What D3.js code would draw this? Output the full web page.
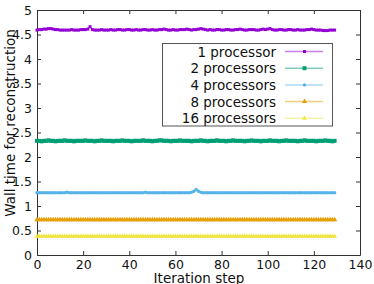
<!DOCTYPE html>
<html>
<head>
<meta charset="utf-8">
<script src="https://cdn.jsdelivr.net/npm/d3@7"></script>
<style>
  body { margin: 0; background: #fff; }
  text { font-family: "DejaVu Sans", sans-serif; fill: #111; }
</style>
</head>
<body>
<div id="chart"></div>
<script>
(function () {
    var width = 374, height = 284;

    var seriesNames = ["1 processor", "2 processors", "4 processors", "8 processors", "16 processors"];
    var seriesColors = ["#9400d3", "#009e73", "#56b4e9", "#e69f00", "#f0e442"];
    var xTicks = [0, 20, 40, 60, 80, 100, 120, 140];
    var yTicks = [0, 0.5, 1, 1.5, 2, 2.5, 3, 3.5, 4, 4.5, 5];
    var yTickLabels = ["0", "0.5", "1", "1.5", "2", "2.5", "3", "3.5", "4", "4.5", "5"];

    // wall time per iteration step (steps 0..129)
    var time1 = [
        4.59,4.60,4.60,4.61,4.61,4.62,4.62,4.61,4.60,4.60,
        4.59,4.59,4.59,4.59,4.59,4.60,4.59,4.59,4.59,4.60,
        4.60,4.60,4.61,4.66,4.60,4.59,4.59,4.59,4.60,4.59,
        4.59,4.59,4.60,4.59,4.59,4.60,4.60,4.59,4.59,4.60,
        4.60,4.59,4.59,4.60,4.59,4.59,4.60,4.60,4.59,4.59,
        4.60,4.59,4.59,4.60,4.60,4.61,4.60,4.59,4.59,4.60,
        4.59,4.59,4.60,4.60,4.60,4.61,4.60,4.59,4.60,4.60,
        4.61,4.62,4.61,4.60,4.59,4.60,4.59,4.59,4.60,4.60,
        4.59,4.59,4.60,4.60,4.59,4.59,4.60,4.60,4.61,4.60,
        4.59,4.59,4.60,4.60,4.60,4.59,4.59,4.60,4.61,4.60,
        4.61,4.62,4.60,4.59,4.59,4.60,4.60,4.59,4.59,4.60,
        4.60,4.59,4.59,4.60,4.59,4.59,4.59,4.60,4.60,4.61,
        4.60,4.59,4.59,4.59,4.58,4.58,4.58,4.59,4.59,4.59
    ];
    var time2 = [
        2.33,2.33,2.32,2.33,2.33,2.34,2.33,2.33,2.32,2.33,
        2.33,2.33,2.34,2.33,2.33,2.33,2.32,2.33,2.33,2.33,
        2.33,2.34,2.33,2.33,2.33,2.32,2.33,2.33,2.34,2.33,
        2.33,2.33,2.33,2.32,2.33,2.33,2.33,2.34,2.33,2.33,
        2.33,2.32,2.33,2.33,2.33,2.33,2.34,2.33,2.33,2.33,
        2.32,2.33,2.33,2.34,2.34,2.33,2.33,2.33,2.32,2.33,
        2.33,2.33,2.34,2.33,2.33,2.33,2.33,2.32,2.33,2.33,
        2.33,2.34,2.33,2.33,2.32,2.33,2.33,2.33,2.34,2.33,
        2.33,2.33,2.32,2.33,2.33,2.34,2.33,2.33,2.33,2.33,
        2.32,2.33,2.33,2.34,2.33,2.33,2.33,2.32,2.33,2.33,
        2.33,2.34,2.33,2.33,2.33,2.32,2.33,2.33,2.34,2.33,
        2.33,2.33,2.33,2.32,2.33,2.33,2.34,2.33,2.33,2.33,
        2.33,2.32,2.33,2.33,2.33,2.34,2.33,2.33,2.32,2.33
    ];
    var time4 = [
        1.27,1.27,1.27,1.27,1.27,1.27,1.27,1.27,1.27,1.27,
        1.27,1.27,1.27,1.28,1.27,1.27,1.27,1.27,1.27,1.27,
        1.27,1.27,1.27,1.27,1.27,1.27,1.27,1.27,1.27,1.27,
        1.27,1.27,1.27,1.27,1.27,1.27,1.27,1.27,1.27,1.27,
        1.27,1.27,1.27,1.27,1.27,1.27,1.27,1.28,1.27,1.27,
        1.27,1.27,1.27,1.27,1.27,1.27,1.27,1.27,1.27,1.27,
        1.27,1.27,1.27,1.27,1.27,1.27,1.27,1.28,1.30,1.34,
        1.30,1.28,1.27,1.27,1.27,1.27,1.27,1.27,1.27,1.27,
        1.27,1.27,1.27,1.27,1.27,1.27,1.27,1.27,1.27,1.27,
        1.27,1.27,1.27,1.27,1.27,1.27,1.27,1.27,1.27,1.27,
        1.27,1.27,1.27,1.27,1.27,1.27,1.27,1.27,1.27,1.27,
        1.27,1.27,1.27,1.27,1.27,1.27,1.27,1.27,1.27,1.27,
        1.27,1.27,1.27,1.27,1.27,1.27,1.27,1.27,1.27,1.27
    ];
    var time8 = [
        0.72,0.72,0.72,0.72,0.72,0.72,0.72,0.72,0.72,0.72,
        0.72,0.72,0.72,0.72,0.72,0.72,0.72,0.72,0.72,0.72,
        0.72,0.72,0.72,0.72,0.72,0.72,0.72,0.72,0.72,0.72,
        0.72,0.72,0.72,0.72,0.72,0.72,0.72,0.72,0.72,0.72,
        0.72,0.72,0.72,0.72,0.72,0.72,0.72,0.72,0.72,0.72,
        0.72,0.72,0.72,0.72,0.72,0.72,0.72,0.72,0.72,0.72,
        0.72,0.72,0.72,0.72,0.72,0.72,0.72,0.72,0.72,0.72,
        0.72,0.72,0.72,0.72,0.72,0.72,0.72,0.72,0.72,0.72,
        0.72,0.72,0.72,0.72,0.72,0.72,0.72,0.72,0.72,0.72,
        0.72,0.72,0.72,0.72,0.72,0.72,0.72,0.72,0.72,0.72,
        0.72,0.72,0.72,0.72,0.72,0.72,0.72,0.72,0.72,0.72,
        0.72,0.72,0.72,0.72,0.72,0.72,0.72,0.72,0.72,0.72,
        0.72,0.72,0.72,0.72,0.72,0.72,0.72,0.72,0.72,0.72
    ];
    var time16 = [
        0.38,0.38,0.38,0.38,0.38,0.38,0.38,0.38,0.38,0.38,
        0.38,0.38,0.38,0.38,0.38,0.38,0.38,0.38,0.38,0.38,
        0.38,0.38,0.38,0.38,0.38,0.38,0.38,0.38,0.38,0.38,
        0.38,0.38,0.38,0.38,0.38,0.38,0.38,0.38,0.38,0.38,
        0.38,0.38,0.38,0.38,0.38,0.38,0.38,0.38,0.38,0.38,
        0.38,0.38,0.38,0.38,0.38,0.38,0.38,0.38,0.38,0.38,
        0.38,0.38,0.38,0.38,0.38,0.38,0.38,0.38,0.38,0.38,
        0.38,0.38,0.38,0.38,0.38,0.38,0.38,0.38,0.38,0.38,
        0.38,0.38,0.38,0.38,0.38,0.38,0.38,0.38,0.38,0.38,
        0.38,0.38,0.38,0.38,0.38,0.38,0.38,0.38,0.38,0.38,
        0.38,0.38,0.38,0.38,0.38,0.38,0.38,0.38,0.38,0.38,
        0.38,0.38,0.38,0.38,0.38,0.38,0.38,0.38,0.38,0.38,
        0.38,0.38,0.38,0.38,0.38,0.38,0.38,0.38,0.38,0.38
    ];

    var allSeries = [time1, time2, time4, time8, time16];
    // marker shape and size per series (gnuplot style point types)
    var markers = [
        {type: d3.symbolSquare, size: 9},
        {type: d3.symbolSquare, size: 16},
        {type: d3.symbolCircle, size: 9},
        {type: d3.symbolTriangle, size: 12},
        {type: d3.symbolTriangle, size: 10}
    ];

    var margin = {left: 37, right: 14, top: 10, bottom: 29};

    var svg = d3.select("#chart")
        .append("svg")
        .attr("width", width)
        .attr("height", height);

    var x = d3.scaleLinear().domain([0, 140]).range([margin.left, width - margin.right]);
    var y = d3.scaleLinear().domain([0, 5]).range([height - margin.bottom, margin.top]);

    // axes with inward ticks, mirrored on top/right
    svg.append("g")
        .attr("transform", "translate(0," + y(0) + ")")
        .call(d3.axisBottom(x).tickValues(xTicks).tickSizeInner(-4).tickSizeOuter(0).tickPadding(5))
        .call(g => g.selectAll("text").attr("font-size", "12.5px").attr("fill", "#111"));
    svg.append("g")
        .attr("transform", "translate(" + x(0) + ",0)")
        .call(d3.axisLeft(y).tickValues(yTicks).tickSizeInner(-4).tickSizeOuter(0).tickPadding(5)
            .tickFormat(function (d, i) { return yTickLabels[i]; }))
        .call(g => g.selectAll("text").attr("font-size", "12.5px").attr("fill", "#111"));
    svg.append("g")
        .attr("transform", "translate(0," + y(5) + ")")
        .call(d3.axisTop(x).tickValues(xTicks).tickSizeInner(-4).tickSizeOuter(0).tickFormat(""));
    svg.append("g")
        .attr("transform", "translate(" + x(140) + ",0)")
        .call(d3.axisRight(y).tickValues(yTicks).tickSizeInner(-4).tickSizeOuter(0).tickFormat(""));
    svg.selectAll(".domain").attr("stroke", "#333");
    svg.selectAll(".tick line").attr("stroke", "#333");

    var line = d3.line()
        .x(function (d, i) { return x(i); })
        .y(function (d) { return y(d); });

    allSeries.forEach(function (vals, s) {
        svg.append("path")
            .attr("d", line(vals))
            .attr("fill", "none")
            .attr("stroke", seriesColors[s])
            .attr("stroke-opacity", 0.6)
            .attr("stroke-width", 1.5);
        var sym = d3.symbol().type(markers[s].type).size(markers[s].size);
        svg.append("g").selectAll("path")
            .data(vals)
            .join("path")
            .attr("d", sym)
            .attr("transform", function (d, i) { return "translate(" + x(i) + "," + y(d) + ")"; })
            .attr("fill", seriesColors[s]);
    });

    // legend
    var legend = svg.append("g");
    legend.append("rect")
        .attr("x", 162.5).attr("y", 43.5)
        .attr("width", 170).attr("height", 82.5)
        .attr("fill", "#fff")
        .attr("stroke", "#555");
    seriesNames.forEach(function (name, s) {
        var cy = 51.5 + s * 16.7;
        legend.append("text")
            .attr("x", 276).attr("y", cy + 5)
            .attr("text-anchor", "end")
            .attr("font-size", "13.5px")
            .text(name);
        legend.append("line")
            .attr("x1", 285).attr("x2", 323)
            .attr("y1", cy).attr("y2", cy)
            .attr("stroke", seriesColors[s])
            .attr("stroke-opacity", 0.5)
            .attr("stroke-width", 1.5);
        legend.append("path")
            .attr("d", d3.symbol().type(markers[s].type).size(markers[s].size)())
            .attr("transform", "translate(304.5," + cy + ")")
            .attr("fill", seriesColors[s]);
    });

    // axis titles
    svg.append("text")
        .attr("x", 199).attr("y", 283)
        .attr("text-anchor", "middle")
        .attr("font-size", "13.5px")
        .text("Iteration step");
    svg.append("text")
        .attr("transform", "translate(15,123) rotate(-90)")
        .attr("text-anchor", "middle")
        .attr("font-size", "13.5px")
        .text("Wall time for reconstruction");
})();
</script>
</body>
</html>
